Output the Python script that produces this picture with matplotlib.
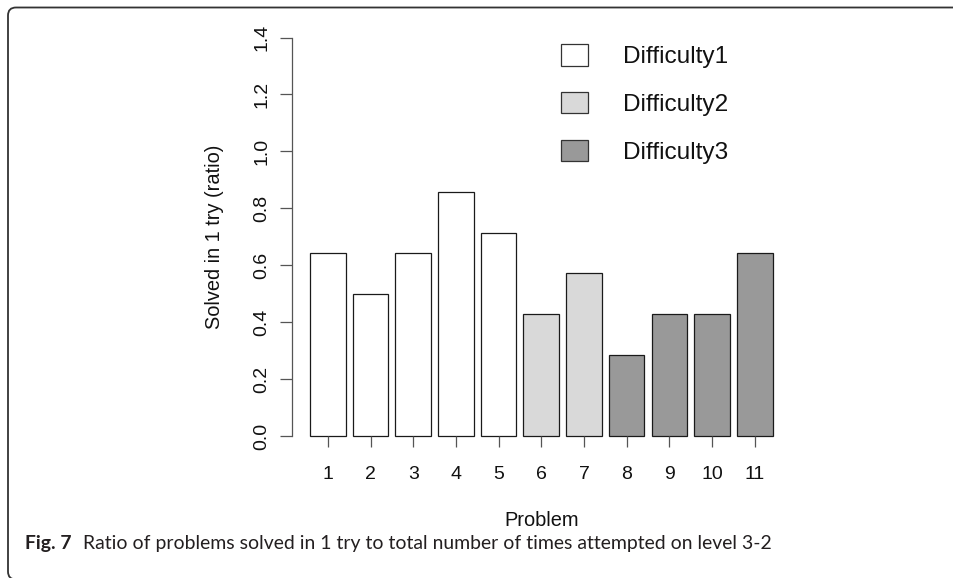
import matplotlib
matplotlib.use("Agg")
import matplotlib.pyplot as plt
from matplotlib.patches import Patch, FancyBboxPatch

problems = ["1", "2", "3", "4", "5", "6", "7", "8", "9", "10", "11"]
ratios = [0.643, 0.500, 0.643, 0.857, 0.714, 0.429, 0.571, 0.286, 0.429, 0.429, 0.643]
difficulty = [1, 1, 1, 1, 1, 2, 2, 3, 3, 3, 3]
diff_labels = ["Difficulty1", "Difficulty2", "Difficulty3"]
diff_colors = ["#FFFFFF", "#D9D9D9", "#999999"]
yticks = [0.0, 0.2, 0.4, 0.6, 0.8, 1.0, 1.2, 1.4]
ytick_labels = ["0.0", "0.2", "0.4", "0.6", "0.8", "1.0", "1.2", "1.4"]
xlabel = "Problem"
ylabel = "Solved in 1 try (ratio)"
cap_bold = "Fig. 7"
cap_text = "Ratio of problems solved in 1 try to total number of times attempted on level 3-2"

W, H = 954, 578
plt.rcParams['font.family'] = ['Liberation Sans', 'DejaVu Sans']
fig = plt.figure(figsize=(W / 100, H / 100), dpi=100)

def fx(px):
    return px / W

def fy(py):
    return (H - py) / H

# axes geometry (pixels)
ax_left, ax_right = 292, 800
y0_px, ytop_px = 436, 37.5
unit = 35.58
x0_px = 302.9
xmin = (ax_left - x0_px) / unit
xmax = (ax_right - x0_px) / unit

ax = fig.add_axes([fx(ax_left), fy(y0_px), fx(ax_right - ax_left), (y0_px - ytop_px) / H])
ax.set_xlim(xmin, xmax)
ax.set_ylim(0, 1.4)

centers = [0.7 + 1.2 * i for i in range(len(ratios))]
colors = [diff_colors[d - 1] for d in difficulty]
ax.bar(centers, ratios, width=1.0, color=colors, edgecolor="#1a1a1a", linewidth=0.9, clip_on=False)

for s in ["top", "right", "bottom"]:
    ax.spines[s].set_visible(False)
ax.spines["left"].set_bounds(0, 1.4)
ax.spines["left"].set_color("#555555")
ax.spines["left"].set_linewidth(0.9)

ax.set_yticks(yticks)
ax.set_yticklabels(ytick_labels, rotation=90, va="center")
ax.set_xticks(centers)
ax.set_xticklabels(problems)
ax.tick_params(axis="y", length=8.6, width=0.9, color="#555555", pad=7, labelsize=14, labelcolor="#111111")
ax.tick_params(axis="x", length=8.0, width=0.9, color="#555555", pad=13.5, labelsize=14, labelcolor="#111111")

fig.text(fx(215), fy(236.5), ylabel, rotation=90, ha="center", va="center", fontsize=14.4, color="#111111")
fig.text(fx(541.7), fy(520.5), xlabel, ha="center", va="center", fontsize=14.4, color="#111111")

handles = [Patch(facecolor=c, edgecolor="#333333", linewidth=0.9) for c in diff_colors]
leg = ax.legend(handles, diff_labels, loc="upper left", bbox_to_anchor=(fx(561.5), fy(44)),
                bbox_transform=fig.transFigure, frameon=False, fontsize=17.6,
                handlelength=1.1, handleheight=0.98, handletextpad=1.4,
                labelspacing=0.97, borderpad=0, borderaxespad=0)
for t in leg.get_texts():
    t.set_color("#111111")

# caption
cap_font = ["Lato", "DejaVu Sans"]
t1 = fig.text(fx(25), fy(544), cap_bold, ha="left", va="center", fontsize=11,
              fontweight="bold", family=cap_font, color="#231f20")
t2 = fig.text(fx(83), fy(544), cap_text, ha="left", va="center", fontsize=11,
              family=cap_font, color="#231f20")
fig.canvas.draw()
r = fig.canvas.get_renderer()
w2 = t2.get_window_extent(r).width
scale = (767 - 83) / w2
t2.set_fontsize(11 * scale)
t1.set_fontsize(11 * scale)

# frame around figure panel
frame = FancyBboxPatch((8, -1.5), 1100, H - 6, boxstyle="round,pad=0,rounding_size=8",
                       transform=None, fill=False, edgecolor="#333333", linewidth=1.3)
fig.patches.append(frame)

fig.savefig("out.png", dpi=100)
